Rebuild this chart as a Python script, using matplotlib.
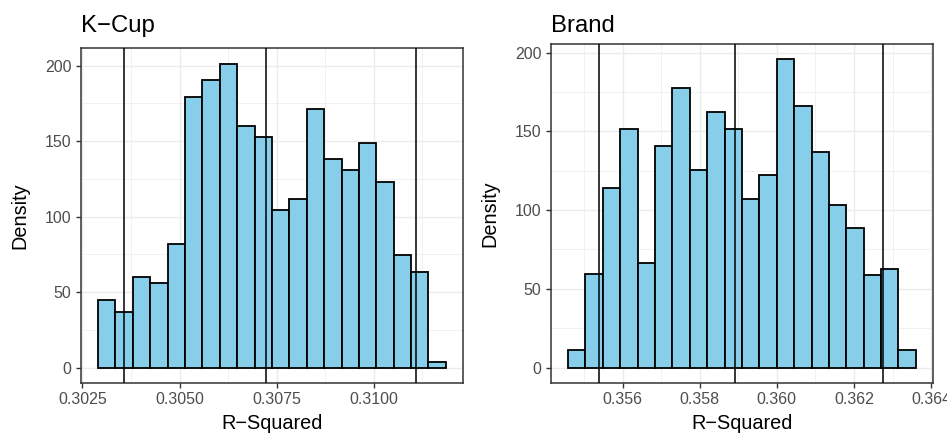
import matplotlib
matplotlib.use("Agg")
import matplotlib.pyplot as plt
from matplotlib.ticker import MultipleLocator
import numpy as np

plt.rcParams['font.family'] = ['Liberation Sans', 'DejaVu Sans']

# K-Cup histogram (density per bin)
kcup_start = 0.302902
kcup_binwidth = 0.000448
kcup_density = [44.5, 37.0, 59.7, 55.7, 81.9, 179.0, 190.3, 201.5, 160.4, 153.0,
                104.4, 111.9, 171.6, 137.9, 130.6, 149.1, 123.1, 74.4, 63.2, 3.5]
kcup_vlines = [0.30357, 0.30722, 0.31109]
kcup_xticks = [0.3025, 0.3050, 0.3075, 0.3100]
kcup_xlabels = ['0.3025', '0.3050', '0.3075', '0.3100']

# Brand histogram (density per bin)
brand_start = 0.354585
brand_binwidth = 0.000451
brand_density = [11.0, 59.1, 114.3, 151.6, 66.3, 140.4, 177.2, 125.7, 162.4, 151.6,
                 107.1, 122.1, 195.6, 166.2, 136.6, 103.5, 88.5, 58.9, 62.9, 11.0]
brand_vlines = [0.355378, 0.35892, 0.362762]
brand_xticks = [0.356, 0.358, 0.360, 0.362, 0.364]
brand_xlabels = ['0.356', '0.358', '0.360', '0.362', '0.364']

y_ticks = [0, 50, 100, 150, 200]


def draw_panel(fig, ax, title, start, width, dens, vlines, xticks, xlabels, minor_x):
    edges = start + width * np.arange(len(dens))
    ax.bar(edges, dens, width=width, align='edge', color='#87CEEB',
           edgecolor='black', linewidth=1.3, zorder=2)
    for v in vlines:
        ax.axvline(v, color='black', linewidth=1.1, zorder=3)

    # ggplot style 5% expansion
    lo = min(edges[0], min(vlines))
    hi = max(edges[-1] + width, max(vlines))
    pad = (hi - lo) * 0.05
    ax.set_xlim(lo - pad, hi + pad)
    ymax = max(dens)
    ax.set_ylim(-ymax * 0.05, ymax * 1.05)

    ax.set_xticks(xticks)
    ax.set_xticklabels(xlabels)
    ax.xaxis.set_minor_locator(MultipleLocator(minor_x))
    ax.set_yticks(y_ticks)
    ax.yaxis.set_minor_locator(MultipleLocator(25))

    ax.grid(which='major', color='#EBEBEB', linewidth=1.0, zorder=0)
    ax.grid(which='minor', color='#EBEBEB', linewidth=0.5, zorder=0)
    ax.set_axisbelow(True)

    for s in ax.spines.values():
        s.set_color('#333333')
        s.set_linewidth(1.1)
    ax.tick_params(which='major', length=3.6, width=1.0, color='#333333',
                   labelcolor='#4D4D4D', labelsize=11.5, pad=3)
    ax.tick_params(which='minor', length=0)

    ax.set_xlabel('R\u2212Squared', fontsize=14.3, labelpad=5)
    ax.set_ylabel('Density', fontsize=14.3, labelpad=11)

    # title baseline at the same height for both panels, left aligned to panel
    x0 = ax.get_position().x0
    fig.text(x0, 1 - 31.7 / 434, title, fontsize=17.2, ha='left', va='baseline')


fig = plt.figure(figsize=(9.47, 4.34), dpi=100)
ax1 = fig.add_axes([0.0852, 0.1182, 0.404, 0.7705])
ax2 = fig.add_axes([0.5815, 0.1175, 0.404, 0.781])

draw_panel(fig, ax1, 'K\u2212Cup', kcup_start, kcup_binwidth, kcup_density,
           kcup_vlines, kcup_xticks, kcup_xlabels, 0.00125)
draw_panel(fig, ax2, 'Brand', brand_start, brand_binwidth, brand_density,
           brand_vlines, brand_xticks, brand_xlabels, 0.001)

fig.savefig('out.png', dpi=100)
